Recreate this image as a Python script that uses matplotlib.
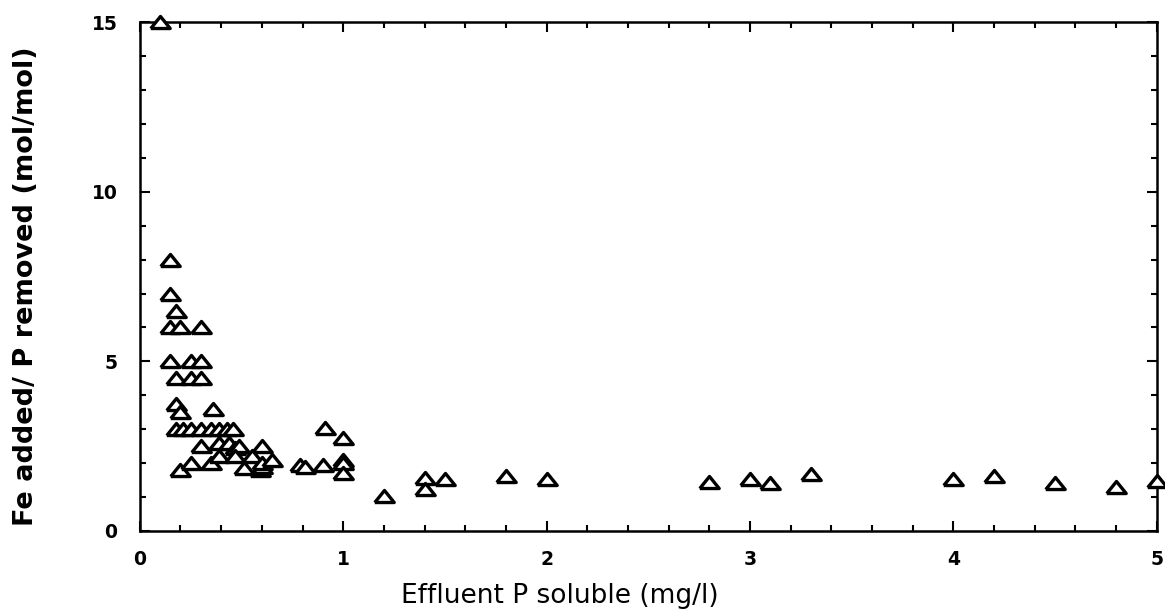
import matplotlib
matplotlib.use("Agg")
import matplotlib.pyplot as plt
from matplotlib.ticker import MultipleLocator

# effluent soluble P (mg/l) vs Fe added / P removed (mol/mol)
p_effluent = [0.1, 0.15, 0.15, 0.18,
              0.15, 0.2, 0.3,
              0.15, 0.25, 0.3,
              0.18, 0.25, 0.3,
              0.18, 0.2, 0.36,
              0.18, 0.21, 0.25, 0.3, 0.35, 0.39, 0.43, 0.46,
              0.3, 0.39, 0.44, 0.47, 0.49, 0.6,
              0.2, 0.25, 0.35, 0.39, 0.47, 0.51, 0.55, 0.59, 0.6, 0.6, 0.65,
              0.79, 0.81, 0.9, 0.91, 1.0, 1.0, 1.0, 1.0,
              1.2, 1.4, 1.4, 1.5, 1.8, 2.0, 2.8, 3.0, 3.1, 3.3,
              4.0, 4.2, 4.5, 4.8, 5.0]
fe_ratio = [15.0, 8.0, 7.0, 6.5,
            6.0, 6.0, 6.0,
            5.0, 5.0, 5.0,
            4.5, 4.5, 4.5,
            3.75, 3.5, 3.6,
            3.0, 3.0, 3.0, 3.0, 3.0, 3.0, 3.0, 3.0,
            2.5, 2.6, 2.6, 2.45, 2.5, 2.5,
            1.8, 2.0, 2.0, 2.2, 2.2, 1.85, 2.2, 1.8, 1.9, 2.0, 2.1,
            1.95, 1.9, 1.95, 3.05, 2.75, 2.1, 2.0, 1.7,
            1.03, 1.56, 1.24, 1.53, 1.62, 1.53, 1.45, 1.53, 1.42, 1.68,
            1.53, 1.62, 1.42, 1.3, 1.47]

x_ticks = [0, 1, 2, 3, 4, 5]
y_ticks = [0, 5, 10, 15]

# flat open triangle like the original plotter symbol
tri = [(-1, -0.62), (1, -0.62), (0, 0.62), (-1, -0.62)]

fig = plt.figure(figsize=(11.65, 6.16), dpi=100)
ax = fig.add_axes([0.12, 0.138, 0.873, 0.826])

ax.plot(p_effluent, fe_ratio, linestyle="none", marker=tri, markersize=14,
        markerfacecolor="white", markeredgecolor="black", markeredgewidth=2.4,
        clip_on=False, zorder=3)

ax.set_xlim(0, 5)
ax.set_ylim(0, 15)
ax.set_xticks(x_ticks)
ax.set_yticks(y_ticks)
ax.xaxis.set_minor_locator(MultipleLocator(0.2))
ax.yaxis.set_minor_locator(MultipleLocator(1))

ax.tick_params(which="both", direction="in", top=True, right=True, width=1.5)
ax.tick_params(which="major", length=7)
ax.tick_params(which="minor", length=4)
ax.tick_params(axis="x", which="major", pad=14)
ax.tick_params(axis="y", which="major", pad=16)
for lab in ax.get_xticklabels() + ax.get_yticklabels():
    lab.set_fontsize(13.5)
    lab.set_fontweight("bold")

for s in ax.spines.values():
    s.set_linewidth(1.8)

ax.set_xlabel("Effluent P soluble (mg/l)", fontsize=19)
ax.xaxis.set_label_coords(0.413, -0.103)
ax.set_ylabel("Fe added/ P removed (mol/mol)", fontsize=19.5, fontweight="bold")
ax.yaxis.set_label_coords(-0.099, 0.481)

fig.savefig("out.png", dpi=100)
